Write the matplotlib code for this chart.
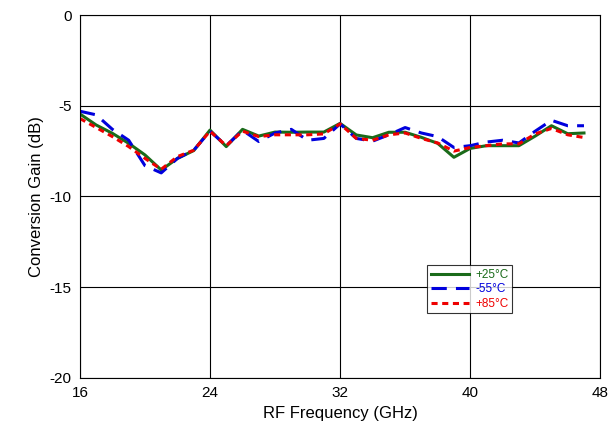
import matplotlib
matplotlib.use("Agg")
import matplotlib.pyplot as plt

freq = list(range(16, 48))
g25 = [-5.45,-6.06,-6.52,-7.07,-7.71,-8.54,-7.9,-7.47,-6.34,-7.25,-6.3,-6.67,-6.45,-6.46,-6.45,-6.45,
       -5.97,-6.61,-6.76,-6.46,-6.46,-6.74,-7.07,-7.84,-7.35,-7.2,-7.2,-7.2,-6.67,-6.1,-6.54,-6.5]
g55 = [-5.3,-5.5,-6.3,-6.9,-8.3,-8.7,-7.9,-7.45,-6.4,-7.2,-6.35,-6.97,-6.5,-6.3,-6.9,-6.8,
       -6.0,-6.8,-6.95,-6.6,-6.2,-6.5,-6.7,-7.3,-7.2,-7.0,-6.9,-7.05,-6.4,-5.8,-6.1,-6.1]
g85 = [-5.7,-6.2,-6.7,-7.25,-7.9,-8.5,-7.8,-7.45,-6.4,-7.2,-6.4,-6.7,-6.6,-6.6,-6.6,-6.55,
       -6.0,-6.8,-6.9,-6.6,-6.5,-6.8,-7.05,-7.5,-7.3,-7.2,-7.1,-7.1,-6.55,-6.25,-6.6,-6.75]

plt.rcParams['font.family'] = ['Liberation Sans', 'DejaVu Sans']
plt.rcParams['axes.unicode_minus'] = False
fig = plt.figure(figsize=(6.10, 4.44), dpi=100)
ax = fig.add_axes([0.131, 0.149, 0.853, 0.817])
ax.plot(freq, g25, color='#1a6b1a', lw=2.2, label='+25°C')
ax.plot(freq, g55, color='#0000dd', lw=2.2, ls=(0, (5, 3)), label='-55°C')
ax.plot(freq, g85, color='#ee0000', lw=2.2, ls=(0, (2, 1.5)), label='+85°C')
ax.set_xlim(16, 48); ax.set_ylim(-20, 0)
ax.set_xticks([16, 24, 32, 40, 48]); ax.set_yticks([-20, -15, -10, -5, 0])
ax.grid(True, color='black', lw=0.8)
ax.tick_params(direction='in', labelsize=11, length=0, pad=6)
for s in ax.spines.values(): s.set_linewidth(0.8)
ax.set_xlabel('RF Frequency (GHz)', fontsize=12)
ax.set_ylabel('Conversion Gain (dB)', fontsize=12)
leg = ax.legend(loc='upper left', bbox_to_anchor=(0.667, 0.31), fontsize=8.5, frameon=True,
                fancybox=False, edgecolor='black', handlelength=3.3, borderpad=0.3,
                labelspacing=0.2, handletextpad=0.5, borderaxespad=0)
leg.get_frame().set_linewidth(0.8)
for t, c in zip(leg.get_texts(), ['#1a6b1a', '#0000dd', '#ee0000']):
    t.set_color(c)
fig.savefig('out.png', dpi=100)
